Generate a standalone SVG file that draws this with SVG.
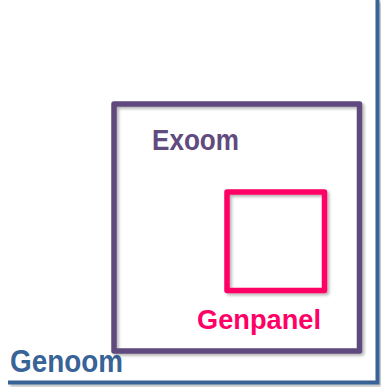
<svg xmlns="http://www.w3.org/2000/svg" width="381" height="387" viewBox="0 0 381 387">
<defs>
<filter id="sh" x="-10%" y="-10%" width="130%" height="130%">
<feDropShadow dx="2" dy="2" stdDeviation="1.8" flood-color="#000" flood-opacity="0.3"/>
</filter>
<style>
.lbl{font-family:"Liberation Sans",Arial,sans-serif;font-weight:bold}
.box{fill:none;stroke-linejoin:round;filter:url(#sh)}
</style>
</defs>
<rect width="381" height="387" fill="#fff"/>
<g id="genoom">
<path d="M377.5,0 V382.5 H8" fill="none" stroke="#386396" stroke-width="4" filter="url(#sh)"/>
<text class="lbl" x="10" y="372" font-size="31" fill="#386396" textLength="113" lengthAdjust="spacingAndGlyphs">Genoom</text>
</g>
<g id="exoom">
<rect class="box" x="114" y="104" width="245.5" height="247" stroke="#604a7e" stroke-width="5.5"/>
<text class="lbl" x="152" y="150" font-size="30" fill="#604a7e" textLength="87" lengthAdjust="spacingAndGlyphs">Exoom</text>
</g>
<g id="genpanel">
<rect class="box" x="227" y="192" width="97.5" height="98.5" stroke="#ff0066" stroke-width="5.5"/>
<text class="lbl" x="197" y="329" font-size="27" fill="#ff0066" textLength="124" lengthAdjust="spacingAndGlyphs">Genpanel</text>
</g>
<g id="connectors"/>
</svg>
